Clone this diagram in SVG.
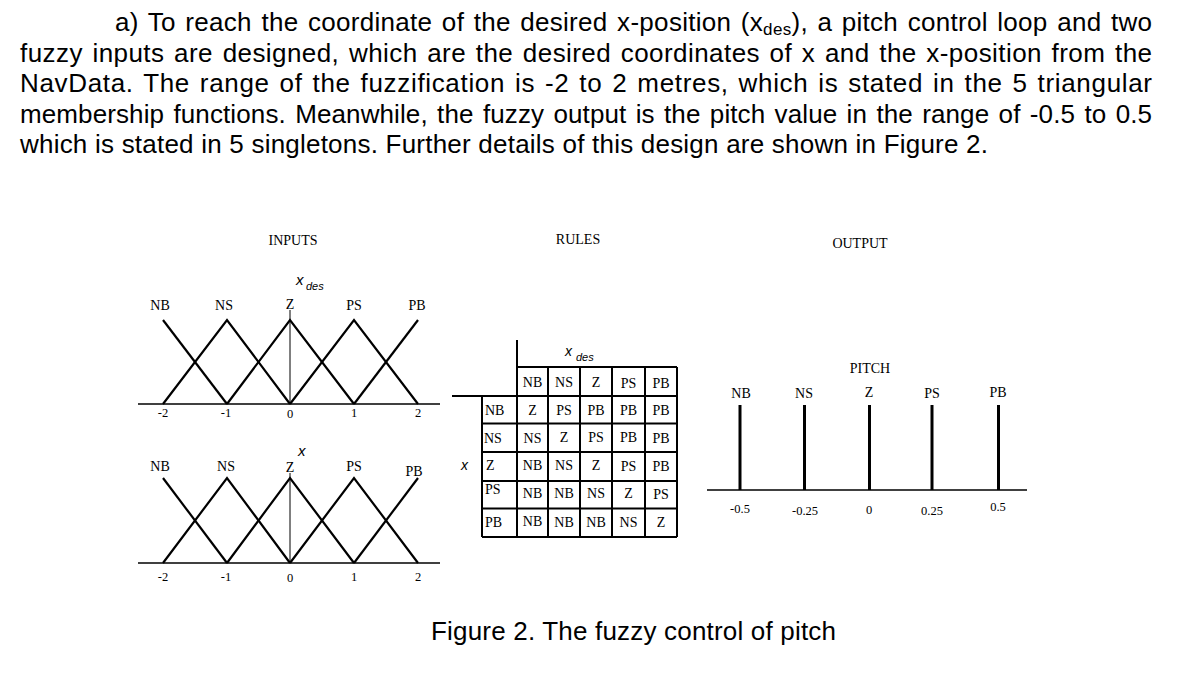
<svg xmlns="http://www.w3.org/2000/svg" width="1185" height="678" viewBox="0 0 1185 678">
<style>
.para{font-family:"Liberation Sans",Arial,sans-serif;font-size:26px;fill:#000}
.just{word-spacing:2px}
.serif{font-family:"Liberation Serif","Times New Roman",serif;fill:#000}
.title{font-size:14px;text-anchor:middle}
.lab{font-size:14px;text-anchor:middle}
.tick{font-size:12.5px;text-anchor:middle}
.cell{font-size:14px;text-anchor:middle}
.rowh{font-size:14px}
.ital{font-family:"Liberation Sans",Arial,sans-serif;font-style:italic;fill:#000}
.mf{fill:none;stroke:#000;stroke-width:2.2;stroke-linejoin:miter}
.axis{stroke:#000;stroke-width:1.5}
.thin{stroke:#000;stroke-width:1}
.grid{stroke:#000;stroke-width:2;fill:none}
.sing{stroke:#000;stroke-width:3}
</style>
<rect width="1185" height="678" fill="#fff"/>
<g id="paragraph">
<text class="para just" x="115" y="31" textLength="1037">a) To reach the coordinate of the desired x-position (x<tspan font-size="17" dy="4">des</tspan><tspan dy="-4">), a pitch control loop and two</tspan></text>
<text class="para just" x="20" y="62" textLength="1132">fuzzy inputs are designed, which are the desired coordinates of x and the x-position from the</text>
<text class="para just" x="20" y="92" textLength="1132">NavData. The range of the fuzzification is -2 to 2 metres, which is stated in the 5 triangular</text>
<text class="para just" x="20" y="123" textLength="1132">membership functions. Meanwhile, the fuzzy output is the pitch value in the range of -0.5 to 0.5</text>
<text class="para" x="20" y="153" textLength="968">which is stated in 5 singletons. Further details of this design are shown in Figure 2.</text>
</g>
<g id="inputs-title"><text class="serif title" x="293" y="245">INPUTS</text></g>
<g id="input-xdes">
<text class="ital" x="296" y="285" font-size="15">x</text><text class="ital" x="306" y="290" font-size="11">des</text>
<line class="axis" x1="138" y1="404" x2="440" y2="404"/>
<line class="thin" x1="290" y1="404" x2="290" y2="310"/>
<polyline class="mf" points="163,320 227,404"/>
<polyline class="mf" points="163,404 227,320 290,404"/>
<polyline class="mf" points="227,404 290,320 354,404"/>
<polyline class="mf" points="290,404 354,320 418,404"/>
<polyline class="mf" points="354,404 418,320"/>
<text class="serif lab" x="160" y="310">NB</text>
<text class="serif lab" x="224" y="310">NS</text>
<text class="serif lab" x="290" y="309">Z</text>
<text class="serif lab" x="354" y="310">PS</text>
<text class="serif lab" x="417" y="310">PB</text>
<text class="serif tick" x="163" y="417">-2</text>
<text class="serif tick" x="226" y="417">-1</text>
<text class="serif tick" x="290" y="418">0</text>
<text class="serif tick" x="354" y="417">1</text>
<text class="serif tick" x="418" y="417">2</text>
</g>
<g id="input-x">
<text class="ital" x="298" y="456" font-size="15">x</text>
<line class="axis" x1="138" y1="563" x2="440" y2="563"/>
<line class="thin" x1="290" y1="563" x2="290" y2="473"/>
<polyline class="mf" points="163,478 227,563"/>
<polyline class="mf" points="163,563 227,478 290,563"/>
<polyline class="mf" points="227,563 290,478 354,563"/>
<polyline class="mf" points="290,563 354,478 418,563"/>
<polyline class="mf" points="354,563 418,478"/>
<text class="serif lab" x="160" y="471">NB</text>
<text class="serif lab" x="226" y="471">NS</text>
<text class="serif lab" x="290" y="472">Z</text>
<text class="serif lab" x="354" y="471">PS</text>
<text class="serif lab" x="414" y="476">PB</text>
<text class="serif tick" x="163" y="581">-2</text>
<text class="serif tick" x="226" y="581">-1</text>
<text class="serif tick" x="290" y="582">0</text>
<text class="serif tick" x="354" y="581">1</text>
<text class="serif tick" x="418" y="581">2</text>
</g>
<g id="rules-title"><text class="serif title" x="578" y="244">RULES</text></g>
<g id="rules-table">
<text class="ital" x="565" y="356" font-size="14">x</text><text class="ital" x="576" y="361" font-size="11">des</text>
<text class="ital" x="461" y="470" font-size="14">x</text>
<line class="grid" x1="517" y1="340" x2="517" y2="537"/>
<line class="grid" x1="452" y1="396" x2="677" y2="396"/>
<line class="grid" x1="517" y1="367" x2="677" y2="367"/>
<line class="grid" x1="482" y1="396" x2="482" y2="537"/>
<line class="grid" x1="548" y1="367" x2="548" y2="537"/>
<line class="grid" x1="580" y1="367" x2="580" y2="537"/>
<line class="grid" x1="612" y1="367" x2="612" y2="537"/>
<line class="grid" x1="645" y1="367" x2="645" y2="537"/>
<line class="grid" x1="677" y1="367" x2="677" y2="537"/>
<line class="grid" x1="482" y1="423.5" x2="677" y2="423.5"/>
<line class="grid" x1="482" y1="452" x2="677" y2="452"/>
<line class="grid" x1="482" y1="481" x2="677" y2="481"/>
<line class="grid" x1="482" y1="508.5" x2="677" y2="508.5"/>
<line class="grid" x1="482" y1="537" x2="677" y2="537"/>
<g class="serif cell">
<text x="532.5" y="387">NB</text><text x="564" y="387">NS</text><text x="596" y="387">Z</text><text x="628.5" y="388">PS</text><text x="661" y="388">PB</text>
<text x="532.5" y="415">Z</text><text x="564" y="415">PS</text><text x="596" y="415">PB</text><text x="628.5" y="415">PB</text><text x="661" y="415">PB</text>
<text x="532.5" y="443">NS</text><text x="564" y="442">Z</text><text x="596" y="442">PS</text><text x="628.5" y="442">PB</text><text x="661" y="443">PB</text>
<text x="532.5" y="470">NB</text><text x="564" y="470">NS</text><text x="596" y="470">Z</text><text x="628.5" y="471">PS</text><text x="661" y="471">PB</text>
<text x="532.5" y="498">NB</text><text x="564" y="498">NB</text><text x="596" y="498">NS</text><text x="628.5" y="498">Z</text><text x="661" y="499">PS</text>
<text x="532.5" y="526">NB</text><text x="564" y="527">NB</text><text x="596" y="527">NB</text><text x="628.5" y="527">NS</text><text x="661" y="527">Z</text>
</g>
<g class="serif rowh">
<text x="485" y="415">NB</text><text x="484" y="443">NS</text><text x="486" y="470">Z</text><text x="485" y="494">PS</text><text x="485" y="527">PB</text>
</g>
</g>
<g id="output-title"><text class="serif title" x="860" y="248">OUTPUT</text></g>
<g id="output-pitch">
<text class="serif title" x="870" y="373">PITCH</text>
<line class="axis" x1="707" y1="490" x2="1027" y2="490"/>
<line class="sing" x1="740" y1="405" x2="740" y2="490"/>
<line class="sing" x1="804.5" y1="405" x2="804.5" y2="490"/>
<line class="sing" x1="869.5" y1="405" x2="869.5" y2="490"/>
<line class="sing" x1="932" y1="405" x2="932" y2="490"/>
<line class="sing" x1="998.5" y1="405" x2="998.5" y2="490"/>
<text class="serif lab" x="741" y="398">NB</text>
<text class="serif lab" x="804" y="398">NS</text>
<text class="serif lab" x="869" y="397">Z</text>
<text class="serif lab" x="932" y="398">PS</text>
<text class="serif lab" x="998" y="397">PB</text>
<text class="serif tick" x="740" y="513">-0.5</text>
<text class="serif tick" x="805" y="515">-0.25</text>
<text class="serif tick" x="869" y="514">0</text>
<text class="serif tick" x="932" y="515">0.25</text>
<text class="serif tick" x="998" y="511">0.5</text>
</g>
<g id="caption">
<text class="para" x="431" y="640" textLength="405">Figure 2. The fuzzy control of pitch</text>
</g>
</svg>
